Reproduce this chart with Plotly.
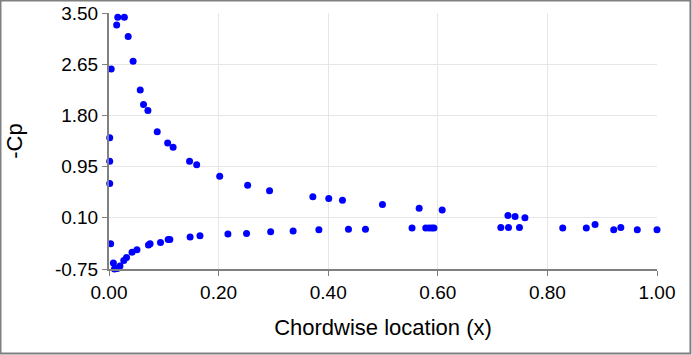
import plotly.graph_objects as go

# Upper surface (-Cp) points
x_upper = [0.0013, 0.0013, 0.0013, 0.004, 0.014, 0.016, 0.028, 0.035, 0.044, 0.057,
           0.063, 0.071, 0.088, 0.107, 0.117, 0.147, 0.160, 0.202, 0.253, 0.293,
           0.372, 0.401, 0.426, 0.499, 0.566, 0.608, 0.728, 0.741, 0.759]
cp_upper = [1.43, 1.04, 0.67, 2.57, 3.30, 3.43, 3.43, 3.11, 2.70, 2.22,
            1.98, 1.88, 1.53, 1.34, 1.27, 1.04, 0.98, 0.79, 0.64, 0.55,
            0.45, 0.42, 0.39, 0.32, 0.26, 0.23, 0.14, 0.12, 0.10]

# Lower surface (-Cp) points
x_lower = [0.003, 0.008, 0.010, 0.015, 0.020, 0.027, 0.032, 0.042, 0.051, 0.072,
           0.075, 0.094, 0.108, 0.111, 0.148, 0.166, 0.217, 0.251, 0.295, 0.336,
           0.383, 0.437, 0.468, 0.553, 0.578, 0.584, 0.589, 0.593, 0.715, 0.729,
           0.749, 0.828, 0.871, 0.887, 0.921, 0.934, 0.964, 1.0]
cp_lower = [-0.33, -0.65, -0.75, -0.74, -0.70, -0.61, -0.56, -0.47, -0.43, -0.35,
            -0.33, -0.31, -0.26, -0.26, -0.22, -0.20, -0.17, -0.16, -0.13, -0.12,
            -0.10, -0.09, -0.09, -0.07, -0.07, -0.07, -0.07, -0.07, -0.06, -0.06,
            -0.06, -0.07, -0.07, -0.01, -0.10, -0.06, -0.10, -0.10]

x_ticks = [0.0, 0.2, 0.4, 0.6, 0.8, 1.0]
y_ticks = [-0.75, 0.10, 0.95, 1.80, 2.65, 3.50]

fig = go.Figure()
fig.add_trace(go.Scatter(x=x_upper + x_lower, y=cp_upper + cp_lower, mode="markers",
                         marker=dict(color="#0000ff", size=7), showlegend=False,
                         cliponaxis=False))

font = dict(family="Liberation Sans, Arial, sans-serif", size=19, color="#000000")
fig.update_layout(
    width=692, height=355,
    margin=dict(l=109, r=35, t=13, b=86),
    paper_bgcolor="white", plot_bgcolor="white",
    font=font,
    xaxis=dict(range=[0, 1], tickvals=x_ticks, ticktext=[f"{v:.2f}" for v in x_ticks],
               showgrid=True, gridcolor="#e6e6e6", gridwidth=1,
               showline=True, linecolor="#808080", linewidth=2,
               ticks="outside", ticklen=5, tickcolor="#808080", tickwidth=1,
               zeroline=False, automargin=False,
               title=dict(text="Chordwise location (x)", font=dict(size=22), standoff=18)),
    yaxis=dict(range=[-0.75, 3.5], tickvals=y_ticks, ticktext=[f"{v:.2f}" for v in y_ticks],
               showgrid=True, gridcolor="#e6e6e6", gridwidth=1,
               showline=True, linecolor="#808080", linewidth=2,
               ticks="outside", ticklen=5, tickcolor="#808080", tickwidth=1,
               zeroline=False, automargin=False,
               title=dict(text="-Cp", font=dict(size=22), standoff=26)),
    shapes=[dict(type="rect", xref="paper", yref="paper",
                 x0=-0.198, x1=1.061, y0=-0.330, y1=1.049,
                 line=dict(color="#808080", width=2), fillcolor="rgba(0,0,0,0)")],
)

fig.write_html("out.html", config={"displayModeBar": False},
               post_script="document.body.style.margin='0';document.body.style.overflow='hidden';")
